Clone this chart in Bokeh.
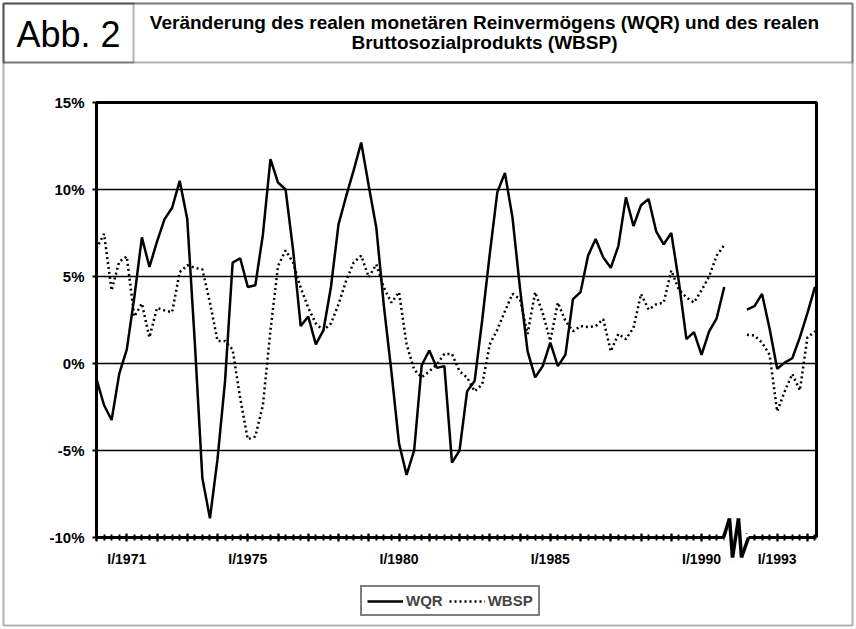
import numpy as np
from bokeh.plotting import figure
from bokeh.models import (Range1d, FixedTicker, Legend, LegendItem, Label,
                          PolyAnnotation, Arrow, ColumnDataSource)
from bokeh.embed import file_html
from bokeh.resources import INLINE

# ---------------- data (quarterly, % change) ----------------
# I/1970 .. IV/1990
wqr_1970_1990 = [
    -0.9, -2.4, -3.25, -0.6, 0.8, 3.8, 7.25, 5.55, 7.0, 8.3, 8.95, 10.5,
    8.3, 1.2, -6.6, -8.9, -5.5, -1.0, 5.8, 6.05, 4.4, 4.5, 7.4, 11.75,
    10.4, 10.0, 6.5, 2.15, 2.7, 1.1, 1.9, 4.4, 8.0, 9.6, 11.1, 12.7,
    10.2, 7.8, 3.3, -0.5, -4.6, -6.4, -5.0, -0.1, 0.75, -0.25, -0.15, -5.7,
    -5.0, -1.6, -1.0, 2.5, 6.3, 9.85, 10.95, 8.4, 4.3, 0.7, -0.8, -0.15,
    1.2, -0.15, 0.5, 3.7, 4.1, 6.2, 7.15, 6.1, 5.5, 6.75, 9.55, 7.9,
    9.1, 9.45, 7.6, 6.85, 7.5, 4.7, 1.4, 1.8, 0.5, 1.85, 2.6, 4.4]
wbsp_1970_1990 = [
    6.6, 7.45, 4.2, 5.85, 6.15, 2.7, 3.45, 1.5, 3.2, 3.05, 2.95, 5.25,
    5.65, 5.5, 5.4, 3.5, 1.3, 1.3, 0.8, -2.0, -4.35, -4.2, -2.4, 1.9,
    5.6, 6.5, 5.8, 4.35, 3.2, 2.3, 1.9, 2.3, 3.4, 4.75, 5.8, 6.2,
    4.95, 5.7, 4.35, 3.5, 4.1, 1.1, -0.35, -0.8, -0.45, -0.05, 0.55, 0.55,
    -0.45, -0.8, -1.6, -1.2, 1.1, 1.95, 3.0, 4.0, 3.7, 1.7, 4.1, 2.9,
    1.3, 3.5, 2.45, 1.85, 2.15, 2.1, 2.15, 2.55, 0.7, 1.7, 1.4, 2.05,
    4.0, 3.1, 3.4, 3.5, 5.35, 4.25, 3.8, 3.5, 4.2, 5.0, 6.2, 6.8]
# I/1992 .. II/1994 (after the axis break)
wqr_1992_1994 = [3.1, 3.3, 4.0, 2.0, -0.3, 0.05, 0.3, 1.5, 2.9, 4.4]
wbsp_1992_1994 = [1.65, 1.6, 1.2, 0.5, -2.75, -1.6, -0.6, -1.55, 1.5, 1.85]

start_year_a = 1970
start_year_b = 1992
break_slots = 2

roman = ["I", "II", "III", "IV"]
labels_a = [f"{roman[i % 4]}/{start_year_a + i // 4}" for i in range(len(wqr_1970_1990))]
labels_b = [f"{roman[i % 4]}/{start_year_b + i // 4}" for i in range(len(wqr_1992_1994))]
quarter_labels = labels_a + [""] * break_slots + labels_b

shown_labels = ["I/1971", "I/1975", "I/1980", "I/1985", "I/1990", "I/1993"]
y_ticks = [-10, -5, 0, 5, 10, 15]
y_tick_labels = ["-10%", "-5%", "0%", "5%", "10%", "15%"]

series_names = ["WQR", "WBSP"]
title_line1 = "Veränderung des realen monetären Reinvermögens (WQR) und des realen"
title_line2 = "Bruttosozialprodukts (WBSP)"
fig_label = "Abb. 2"

# ---------------- build ----------------
nan = float("nan")
x_idx = np.arange(len(quarter_labels), dtype=float)
wqr = np.array(wqr_1970_1990 + [nan] * break_slots + wqr_1992_1994, dtype=float)
wbsp = np.array(wbsp_1970_1990 + [nan] * break_slots + wbsp_1992_1994, dtype=float)
src = ColumnDataSource(dict(x=x_idx, wqr=wqr, wbsp=wbsp))

W, H = 856, 629
X_END = 95.2
Y0, Y1 = y_ticks[0], y_ticks[-1]
# chart rectangle in canvas pixels
PL, PR, PT, PB = 96, 816, 102, 537

def fx(px):
    return (px - PL) * X_END / (PR - PL)

def fy(py):
    return Y1 - (py - PT) * (Y1 - Y0) / (PB - PT)

p = figure(width=W, height=H, output_backend="svg", toolbar_location=None,
           x_range=Range1d(fx(0), fx(W)), y_range=Range1d(fy(H), fy(0)),
           min_border=0, background_fill_color="white", border_fill_color="white")
p.title.visible = False
p.outline_line_color = None
p.xgrid.visible = False
p.ygrid.visible = False

FONT = "Liberation Sans"

# y axis (fixed at the chart's left edge)
p.yaxis.fixed_location = 0
p.yaxis.bounds = (Y0, Y1)
p.yaxis.ticker = FixedTicker(ticks=y_ticks, minor_ticks=[])
p.yaxis.major_label_overrides = dict(zip(y_ticks, y_tick_labels))
p.yaxis.axis_line_width = 3
p.yaxis.major_tick_in = 0
p.yaxis.major_tick_out = 4
p.yaxis.major_tick_line_width = 2
p.yaxis.major_label_standoff = 8
p.yaxis.major_label_text_font = FONT
p.yaxis.major_label_text_font_style = "bold"
p.yaxis.major_label_text_font_size = "15px"
p.yaxis.major_label_text_color = "black"

# x axis (fixed at -10 %)
year_ticks = [i for i, l in enumerate(quarter_labels) if l.startswith("I/")]
quarter_ticks = [i for i, l in enumerate(quarter_labels) if l]
p.xaxis.fixed_location = Y0
p.xaxis.bounds = (0, X_END)
p.xaxis.ticker = FixedTicker(ticks=year_ticks, minor_ticks=quarter_ticks)
p.xaxis.major_label_overrides = {i: (quarter_labels[i] if quarter_labels[i] in shown_labels else "")
                                 for i in year_ticks}
p.xaxis.axis_line_width = 3
p.xaxis.major_tick_in = 4
p.xaxis.major_tick_out = 4
p.xaxis.major_tick_line_width = 2
p.xaxis.minor_tick_in = 3
p.xaxis.minor_tick_out = 3
p.xaxis.minor_tick_line_width = 2
p.xaxis.major_label_standoff = 9
p.xaxis.major_label_text_font = FONT
p.xaxis.major_label_text_font_style = "bold"
p.xaxis.major_label_text_font_size = "14px"
p.xaxis.major_label_text_color = "black"

# horizontal grid lines and chart border (top/right/left)
p.segment(x0=[0] * (len(y_ticks) - 2), x1=[X_END] * (len(y_ticks) - 2),
          y0=y_ticks[1:-1], y1=y_ticks[1:-1], line_color="black", line_width=1.5)
p.line([0, 0, X_END, X_END], [Y0, Y1, Y1, Y0], line_color="black", line_width=3)

r1 = p.line("x", "wqr", source=src, line_color="black", line_width=2.5)
r2 = p.line("x", "wbsp", source=src, line_color="black", line_width=2.5,
            line_dash="2 3")

legend = Legend(items=[LegendItem(label=series_names[0], renderers=[r1]),
                       LegendItem(label=series_names[1], renderers=[r2])],
                location=(360, H - 616), orientation="horizontal",
                border_line_color="black", border_line_width=2,
                label_text_font=FONT, label_text_font_style="bold",
                label_text_font_size="15px", glyph_width=36, glyph_height=14,
                label_standoff=3, spacing=6, padding=5, margin=0)
p.add_layout(legend)

# axis break marker
p.add_layout(Arrow(end=None, x_start=fx(724), y_start=Y0, x_end=fx(748), y_end=Y0,
                   line_color="white", line_width=7))
zig_x = [723, 729, 732, 738, 741, 748]
zig_y = [537, 518, 557, 518, 557, 537]
for k in range(len(zig_x) - 1):
    p.add_layout(Arrow(end=None, x_start=fx(zig_x[k]), y_start=fy(zig_y[k]),
                       x_end=fx(zig_x[k + 1]), y_end=fy(zig_y[k + 1]),
                       line_color="black", line_width=3.5))

# frame boxes
def box(l, t, r, b):
    return PolyAnnotation(xs=[fx(l), fx(r), fx(r), fx(l)], ys=[fy(t), fy(t), fy(b), fy(b)],
                          fill_alpha=0, line_color="black", line_width=2)

p.add_layout(box(3, 3, 852, 625))
p.add_layout(box(3, 3, 852, 62))
p.add_layout(box(3, 3, 133, 62))

p.add_layout(Label(x=fx(68), y=fy(34), text=fig_label, text_align="center",
                   text_baseline="middle", text_font=FONT, text_font_size="36px",
                   text_color="black"))
p.add_layout(Label(x=fx(484), y=fy(22), text=title_line1, text_align="center",
                   text_baseline="middle", text_font=FONT, text_font_style="bold",
                   text_font_size="19px", text_color="black"))
p.add_layout(Label(x=fx(484), y=fy(42), text=title_line2, text_align="center",
                   text_baseline="middle", text_font=FONT, text_font_style="bold",
                   text_font_size="19px", text_color="black"))

open("out.html", "w").write(file_html(p, INLINE))
